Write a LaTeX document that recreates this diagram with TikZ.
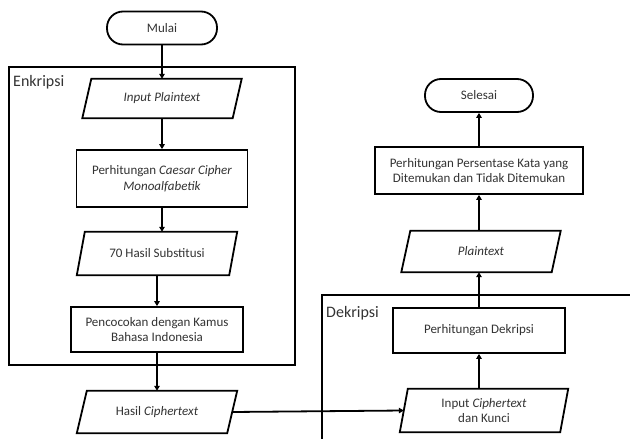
\documentclass[tikz,border=0pt]{standalone}
\usepackage{fontspec}
\setmainfont{Carlito}
\usetikzlibrary{arrows.meta,calc}
\definecolor{txt}{HTML}{333333}
\begin{document}
\begin{tikzpicture}[x=1pt,y=-1pt,
  every node/.style={font=\fontsize{13}{15.5}\selectfont, align=center, inner sep=0pt, text=txt},
  proc/.style={draw, line width=1.8pt, minimum width=#1},
  term/.style={draw, line width=1.8pt, rounded corners=16pt, minimum height=33pt, minimum width=#1},
  iobox/.style={minimum width=#1},
  frame/.style={line width=1.8pt},
  flow/.style={line width=1.8pt, -{Triangle[length=5pt,width=5.5pt]}},
  lbl/.style={font=\fontsize{16}{18}\selectfont, anchor=west, text=txt}
]
\useasboundingbox (0,0) rectangle (630,439);
\fill[white] (0,0) rectangle (630,439);

% frames
\draw[frame] (9,67) rectangle (295,365);
\node[lbl] (enk) at (13,82) {Enkripsi};
\draw[frame] (632,295) -- (322,295) -- (322,441);
\node[lbl] (dek) at (326,313) {Dekripsi};

% left column
\node[term=110pt] (mulai) at (162,28) {Mulai};
\node[iobox=150pt, minimum height=39pt] (inp) at (162,98.5) {\itshape Input Plaintext};
\node[proc=171pt, minimum height=57pt] (caesar) at (162,178.5) {Perhitungan \textit{Caesar Cipher}\\ \textit{Monoalfabetik}};
\node[iobox=152pt, minimum height=43pt] (subst) at (157,253.5) {70 Hasil Substitusi};
\node[proc=172pt, minimum height=45pt] (cocok) at (157,329.5) {Pencocokan dengan Kamus\\ Bahasa Indonesia};
\node[iobox=150pt, minimum height=42pt] (hasil) at (157,412) {Hasil \textit{Ciphertext}};

% right column
\node[term=108pt] (selesai) at (479,95.5) {Selesai};
\node[proc=208pt, minimum height=47pt] (pers) at (479,170.5) {Perhitungan Persentase Kata yang\\ Ditemukan dan Tidak Ditemukan};
\node[iobox=150pt, minimum height=41pt] (plain) at (481,251.5) {\itshape Plaintext};
\node[proc=172pt, minimum height=45pt] (pdek) at (479,330.5) {Perhitungan Dekripsi};
\node[iobox=160pt, minimum height=43pt] (inc) at (484,410.5) {Input \textit{Ciphertext}\\ dan Kunci};

% parallelograms
\foreach \n/\s in {inp/9, subst/8, hasil/10, plain/9, inc/8}{
  \draw[line width=1.8pt, line join=miter]
    ($(\n.north west)+(\s/2,0)$) -- ($(\n.north east)+(\s/2,0)$) --
    ($(\n.south east)+(-\s/2,0)$) -- ($(\n.south west)+(-\s/2,0)$) -- cycle;
}

% connectors
\draw[flow] (mulai.south) -- (mulai.south |- inp.north);
\draw[flow] (inp.south -| caesar.north) -- (caesar.north);
\draw[flow] (caesar.south) -- (caesar.south |- subst.north);
\draw[flow] (subst.south -| cocok.north) -- (cocok.north);
\draw[flow] (cocok.south) -- (cocok.south |- hasil.north);
\draw[flow] (hasil.east) -- (inc.west);
\draw[flow] (inc.north -| pdek.south) -- (pdek.south);
\draw[flow] (pdek.north) -- (pdek.north |- plain.south);
\draw[flow] (plain.north -| pers.south) -- (pers.south);
\draw[flow] (pers.north) -- (selesai.south);
\end{tikzpicture}
\end{document}
